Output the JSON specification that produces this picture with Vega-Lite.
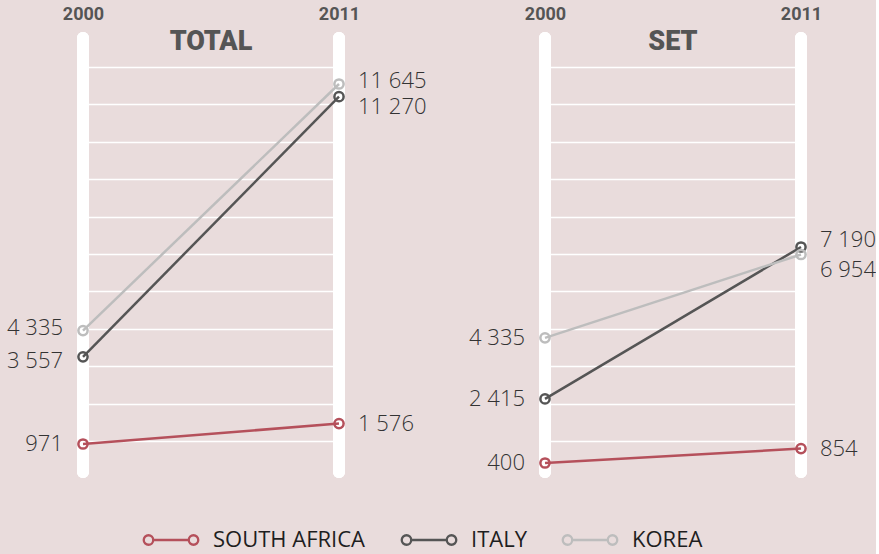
{
  "$schema": "https://vega.github.io/schema/vega-lite/v6.json",
  "background": "#e9dcdc",
  "autosize": {"type": "pad"},
  "padding": {"left": 7, "top": 5, "right": 0, "bottom": 12},
  "config": {
    "view": {"stroke": null},
    "locale": {"number": {"decimal": ",", "thousands": " ", "grouping": [3], "currency": ["", ""]}}
  },
  "data": {
    "values": [
      {"panel": "TOTAL", "country": "SOUTH AFRICA", "year": 2000, "value": 971},
      {"panel": "TOTAL", "country": "SOUTH AFRICA", "year": 2011, "value": 1576},
      {"panel": "TOTAL", "country": "ITALY", "year": 2000, "value": 3557},
      {"panel": "TOTAL", "country": "ITALY", "year": 2011, "value": 11270},
      {"panel": "TOTAL", "country": "KOREA", "year": 2000, "value": 4335},
      {"panel": "TOTAL", "country": "KOREA", "year": 2011, "value": 11645},
      {"panel": "SET", "country": "SOUTH AFRICA", "year": 2000, "value": 400},
      {"panel": "SET", "country": "SOUTH AFRICA", "year": 2011, "value": 854},
      {"panel": "SET", "country": "ITALY", "year": 2000, "value": 2415},
      {"panel": "SET", "country": "ITALY", "year": 2011, "value": 7190},
      {"panel": "SET", "country": "KOREA", "year": 2000, "value": 4335},
      {"panel": "SET", "country": "KOREA", "year": 2011, "value": 6954}
    ]
  },
  "bounds": "flush",
  "spacing": 206,
  "hconcat": [
    {
      "width": 256,
      "height": 434,
      "title": {"text": "TOTAL", "offset": -51, "fontSize": 27, "font": "Roboto", "fontWeight": 900, "color": "#555555", "anchor": "middle"},
      "transform": [{"filter": "datum.panel === 'TOTAL'"}],
      "layer": [
        {
          "mark": {"type": "rule", "color": "white", "strokeWidth": 12, "strokeCap": "round"},
          "encoding": {
            "x": {"field": "year", "type": "quantitative", "scale": {"domain": [2000, 2011]},
              "axis": {"orient": "top", "values": [2000, 2011], "format": "d", "title": null, "domain": false, "ticks": false, "grid": false, "labelFlush": false, "labelFontSize": 18, "labelFont": "Roboto", "labelFontWeight": "bold", "labelColor": "#555555", "labelPadding": 15}}
          }
        },
        {
          "mark": {"type": "line", "strokeWidth": 2.5},
          "encoding": {
            "x": {"field": "year", "type": "quantitative"},
            "y": {"field": "value", "type": "quantitative", "scale": {"domain": [141, 13009], "nice": false, "zero": false},
              "axis": {"title": null, "labels": false, "ticks": false, "domain": false, "grid": true, "gridColor": "white", "gridWidth": 1.3, "gridOpacity": 1, "values": [1060, 2169, 3278, 4387, 5496, 6605, 7714, 8823, 9932, 11041, 12150]}},
            "color": {"field": "country", "type": "nominal", "scale": {"domain": ["SOUTH AFRICA", "ITALY", "KOREA"], "range": ["#b5505b", "#555555", "#bdbdbd"]},
              "legend": {"title": null, "orient": "none", "legendX": 58, "legendY": 492, "direction": "horizontal", "clipHeight": 20, "symbolType": "M-0.957,0A0.167,0.167,0,1,0,-0.623,0A0.167,0.167,0,1,0,-0.957,0ZM-0.623,0L0.623,0M0.623,0A0.167,0.167,0,1,0,0.957,0A0.167,0.167,0,1,0,0.623,0Z", "symbolSize": 3249, "symbolStrokeWidth": 2.3, "symbolFillColor": "transparent", "labelFont": "Open Sans", "labelFontSize": 22, "labelColor": "#1e1e1e", "labelOffset": 12, "columnPadding": 33, "labelLimit": 400}}
          }
        },
        {
          "mark": {"type": "point", "filled": false, "strokeWidth": 2.5, "size": 85, "opacity": 1},
          "encoding": {
            "x": {"field": "year", "type": "quantitative"},
            "y": {"field": "value", "type": "quantitative"},
            "color": {"field": "country", "type": "nominal"}
          }
        },
        {
          "transform": [{"filter": "datum.year === 2000 && datum.country === 'SOUTH AFRICA'"}],
          "mark": {"type": "text", "align": "right", "baseline": "middle", "dx": -20, "dy": 0, "fontSize": 22, "font": "Open Sans", "fontWeight": 300, "color": "#333333"},
          "encoding": {
            "x": {"field": "year", "type": "quantitative"},
            "y": {"field": "value", "type": "quantitative"},
            "text": {"field": "value", "type": "quantitative", "format": ",d"}
          }
        },
        {
          "transform": [{"filter": "datum.year === 2000 && datum.country === 'ITALY'"}],
          "mark": {"type": "text", "align": "right", "baseline": "middle", "dx": -20, "dy": 4, "fontSize": 22, "font": "Open Sans", "fontWeight": 300, "color": "#333333"},
          "encoding": {
            "x": {"field": "year", "type": "quantitative"},
            "y": {"field": "value", "type": "quantitative"},
            "text": {"field": "value", "type": "quantitative", "format": ",d"}
          }
        },
        {
          "transform": [{"filter": "datum.year === 2000 && datum.country === 'KOREA'"}],
          "mark": {"type": "text", "align": "right", "baseline": "middle", "dx": -20, "dy": -3, "fontSize": 22, "font": "Open Sans", "fontWeight": 300, "color": "#333333"},
          "encoding": {
            "x": {"field": "year", "type": "quantitative"},
            "y": {"field": "value", "type": "quantitative"},
            "text": {"field": "value", "type": "quantitative", "format": ",d"}
          }
        },
        {
          "transform": [{"filter": "datum.year === 2011 && datum.country === 'SOUTH AFRICA'"}],
          "mark": {"type": "text", "align": "left", "baseline": "middle", "dx": 19, "dy": 0, "fontSize": 22, "font": "Open Sans", "fontWeight": 300, "color": "#333333"},
          "encoding": {
            "x": {"field": "year", "type": "quantitative"},
            "y": {"field": "value", "type": "quantitative"},
            "text": {"field": "value", "type": "quantitative", "format": ",d"}
          }
        },
        {
          "transform": [{"filter": "datum.year === 2011 && datum.country === 'ITALY'"}],
          "mark": {"type": "text", "align": "left", "baseline": "middle", "dx": 19, "dy": 10, "fontSize": 22, "font": "Open Sans", "fontWeight": 300, "color": "#333333"},
          "encoding": {
            "x": {"field": "year", "type": "quantitative"},
            "y": {"field": "value", "type": "quantitative"},
            "text": {"field": "value", "type": "quantitative", "format": ",d"}
          }
        },
        {
          "transform": [{"filter": "datum.year === 2011 && datum.country === 'KOREA'"}],
          "mark": {"type": "text", "align": "left", "baseline": "middle", "dx": 19, "dy": -3, "fontSize": 22, "font": "Open Sans", "fontWeight": 300, "color": "#333333"},
          "encoding": {
            "x": {"field": "year", "type": "quantitative"},
            "y": {"field": "value", "type": "quantitative"},
            "text": {"field": "value", "type": "quantitative", "format": ",d"}
          }
        }
      ]
    },
    {
      "width": 256,
      "height": 434,
      "title": {"text": "SET", "offset": -51, "fontSize": 27, "font": "Roboto", "fontWeight": 900, "color": "#555555", "anchor": "middle"},
      "transform": [{"filter": "datum.panel === 'SET'"}],
      "layer": [
        {
          "mark": {"type": "rule", "color": "white", "strokeWidth": 12, "strokeCap": "round"},
          "encoding": {
            "x": {"field": "year", "type": "quantitative", "scale": {"domain": [2000, 2011]},
              "axis": {"orient": "top", "values": [2000, 2011], "format": "d", "title": null, "domain": false, "ticks": false, "grid": false, "labelFlush": false, "labelFontSize": 18, "labelFont": "Roboto", "labelFontWeight": "bold", "labelColor": "#555555", "labelPadding": 15}}
          }
        },
        {
          "mark": {"type": "line", "strokeWidth": 2.5},
          "encoding": {
            "x": {"field": "year", "type": "quantitative"},
            "y": {"field": "value", "type": "quantitative", "scale": {"domain": [117, 13760], "nice": false, "zero": false},
              "axis": {"title": null, "labels": false, "ticks": false, "domain": false, "grid": true, "gridColor": "white", "gridWidth": 1.3, "gridOpacity": 1, "values": [1092, 2268, 3443, 4619, 5795, 6970, 8146, 9322, 10497, 11673, 12849]}},
            "color": {"field": "country", "type": "nominal"}
          }
        },
        {
          "mark": {"type": "point", "filled": false, "strokeWidth": 2.5, "size": 85, "opacity": 1},
          "encoding": {
            "x": {"field": "year", "type": "quantitative"},
            "y": {"field": "value", "type": "quantitative"},
            "color": {"field": "country", "type": "nominal"}
          }
        },
        {
          "transform": [{"filter": "datum.year === 2000"}],
          "mark": {"type": "text", "align": "right", "baseline": "middle", "dx": -20, "fontSize": 22, "font": "Open Sans", "fontWeight": 300, "color": "#333333"},
          "encoding": {
            "x": {"field": "year", "type": "quantitative"},
            "y": {"field": "value", "type": "quantitative"},
            "text": {"field": "value", "type": "quantitative", "format": ",d"}
          }
        },
        {
          "transform": [{"filter": "datum.year === 2011 && datum.country === 'SOUTH AFRICA'"}],
          "mark": {"type": "text", "align": "left", "baseline": "middle", "dx": 19, "dy": 0, "fontSize": 22, "font": "Open Sans", "fontWeight": 300, "color": "#333333"},
          "encoding": {
            "x": {"field": "year", "type": "quantitative"},
            "y": {"field": "value", "type": "quantitative"},
            "text": {"field": "value", "type": "quantitative", "format": ",d"}
          }
        },
        {
          "transform": [{"filter": "datum.year === 2011 && datum.country === 'ITALY'"}],
          "mark": {"type": "text", "align": "left", "baseline": "middle", "dx": 19, "dy": -7, "fontSize": 22, "font": "Open Sans", "fontWeight": 300, "color": "#333333"},
          "encoding": {
            "x": {"field": "year", "type": "quantitative"},
            "y": {"field": "value", "type": "quantitative"},
            "text": {"field": "value", "type": "quantitative", "format": ",d"}
          }
        },
        {
          "transform": [{"filter": "datum.year === 2011 && datum.country === 'KOREA'"}],
          "mark": {"type": "text", "align": "left", "baseline": "middle", "dx": 19, "dy": 15, "fontSize": 22, "font": "Open Sans", "fontWeight": 300, "color": "#333333"},
          "encoding": {
            "x": {"field": "year", "type": "quantitative"},
            "y": {"field": "value", "type": "quantitative"},
            "text": {"field": "value", "type": "quantitative", "format": ",d"}
          }
        }
      ]
    }
  ]
}
